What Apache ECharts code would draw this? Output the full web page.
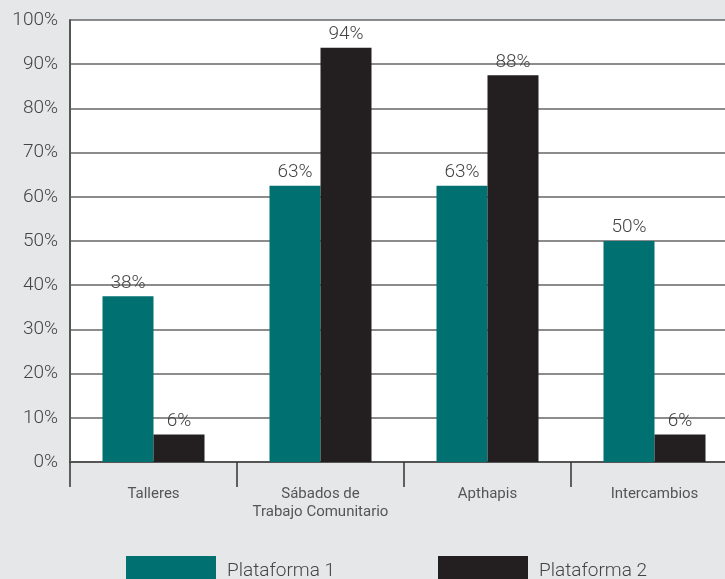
<!DOCTYPE html>
<html><head><meta charset="utf-8">
<script src="https://cdn.jsdelivr.net/npm/echarts@6/dist/echarts.min.js"></script>
<style>html,body{margin:0;padding:0;background:#e6e7e8;overflow:hidden;width:725px;height:579px;}#c{width:738px;height:579px;}</style>
</head><body><div id="c"></div>
<script>
var categories = ['Talleres', 'Sábados de\nTrabajo Comunitario', 'Apthapis', 'Intercambios'];
var plataforma1 = [37.5, 62.5, 62.5, 50];
var plataforma2 = [6.25, 93.75, 87.5, 6.25];
var seriesNames = ['Plataforma 1', 'Plataforma 2'];
var yTicks = [0, 10, 20, 30, 40, 50, 60, 70, 80, 90, 100];

var font = 'Roboto';
var chart = echarts.init(document.getElementById('c'));
var lbl = {show: true, position: 'top', distance: 4, color: '#444', fontSize: 19, fontFamily: font, fontWeight: 300,
  formatter: function(p){ return Math.round(p.value) + '%'; }};
chart.setOption({
  backgroundColor: '#e6e7e8',
  animation: false,
  grid: {left: 70, right: 0, top: 20, height: 442, show: true, backgroundColor: '#ffffff', borderWidth: 0},
  legend: {
    bottom: -7, left: 126, padding: 0, itemGap: 103, itemWidth: 90, itemHeight: 30, icon: 'rect',
    textStyle: {fontSize: 19, color: '#444', fontFamily: font, fontWeight: 300, padding: [0, 0, 0, 6]},
    data: seriesNames
  },
  xAxis: {
    type: 'category', data: categories,
    axisLine: {lineStyle: {color: '#555', width: 2}},
    axisTick: {show: true, length: 25, lineStyle: {color: '#333', width: 1.5}},
    axisLabel: {interval: 0, color: '#555', fontSize: 15, fontFamily: font, margin: 23, lineHeight: 18}
  },
  yAxis: {
    type: 'value', min: 0, max: 100, interval: 10,
    axisLine: {show: true, lineStyle: {color: '#555', width: 2}},
    axisTick: {show: false},
    splitLine: {lineStyle: {color: '#666', width: 1.5}},
    axisLabel: {color: '#444', fontSize: 19, fontFamily: font, fontWeight: 300, margin: 12,
      formatter: function(v){ return yTicks.indexOf(v) >= 0 ? v + '%' : ''; }}
  },
  series: [
    {name: seriesNames[0], type: 'bar', data: plataforma1, barWidth: 51, barGap: '0%', itemStyle: {color: '#007170'}, label: lbl},
    {name: seriesNames[1], type: 'bar', data: plataforma2, barWidth: 51, barGap: '0%', itemStyle: {color: '#231f20'}, label: lbl}
  ]
});
</script></body></html>
